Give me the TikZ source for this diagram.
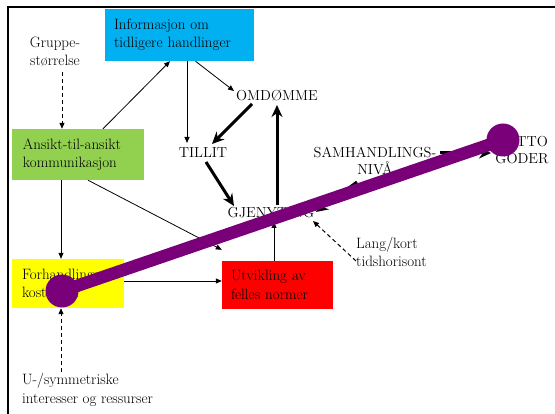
\documentclass[tikz,border=0pt]{standalone}
\usetikzlibrary{arrows.meta}
\definecolor{infoblue}{RGB}{0,176,240}
\definecolor{boxgreen}{RGB}{146,208,80}
\definecolor{boxyellow}{RGB}{255,255,0}
\definecolor{boxred}{RGB}{255,0,0}
\definecolor{bigpurple}{RGB}{122,0,122}
\begin{document}
\begin{tikzpicture}[x=1pt,y=-1pt,
  txt/.style={font=\fontsize{15}{18.5}\selectfont, inner sep=0pt},
  capt/.style={font=\fontsize{14.5}{17.5}\selectfont, inner sep=0pt, align=center},
  colbox/.style={font=\fontsize{15}{18.5}\selectfont, inner ysep=0pt, align=left, anchor=center},
  thinarrow/.style={line width=0.8pt, -{Triangle[length=6pt,width=5pt]}},
  thickarrow/.style={line width=3pt, -{Stealth[length=12pt,width=11pt]}},
  dasharrow/.style={line width=1pt, dash pattern=on 4pt off 3pt, -{Triangle[length=6pt,width=5pt]}}
]
\useasboundingbox (0,0) rectangle (555,414);
\fill[white] (0,0) rectangle (555,414);
\draw[line width=2.2pt] (8,414) -- (8,7) -- (555,7);

% coloured boxes
\node[colbox, fill=infoblue, minimum width=147pt, minimum height=52pt, text width=131pt, inner xsep=9pt] (info) at (179.5,35) {Informasjon om\\tidligere handlinger};
\node[colbox, fill=boxgreen, minimum width=130pt, minimum height=51pt, text width=110pt, inner xsep=11pt] (green) at (78,154.5) {Ansikt-til-ansikt\\kommunikasjon};
\node[colbox, fill=boxyellow, minimum width=110pt, minimum height=49pt, text width=92pt, inner xsep=10pt] (yellow) at (68,283.5) {Forhandlings-\\kostnader};
\node[colbox, fill=boxred, minimum width=111pt, minimum height=48pt, text width=93pt, inner xsep=9pt] (red) at (277.5,285) {Utvikling av\\felles normer};

% plain labels
\node[txt, align=center] (gruppe) at (55,52) {Gruppe-\\størrelse};
\node[capt] (omd) at (277,96) {OMDØMME};
\node[capt] (tillit) at (203,153) {TILLIT};
\node[capt] (gjen) at (271,213) {GJENYTING};
\node[capt] (samh) at (375,161) {SAMHANDLINGS-\\NIVÅ};
\node[capt] (netto) at (522,150) {NETTO\\GODER};
\node[txt, align=left, anchor=west] (lang) at (356,252) {Lang/kort\\tidshorisont};
\node[txt, align=left, anchor=west] (usym) at (22,390) {U-/symmetriske\\interesser og ressurser};

% thin arrows
\draw[thinarrow] ([xshift=25pt]green.north) -- ([xshift=-9.5pt]info.south);
\draw[thinarrow] ([xshift=7.5pt]info.south) -- ([shift={(-16,-10)}]tillit.center);
\draw[thinarrow] ([xshift=16pt]info.south) -- ([shift={(-43,-5)}]omd.center);
\draw[thinarrow] ([xshift=-17pt]green.south) -- ([xshift=-17pt]green.south |- yellow.north);
\draw[thinarrow] ([xshift=10pt]green.south) -- ([yshift=11pt]red.north west);
\draw[thinarrow] ([yshift=2.5pt]yellow.east) -- ([yshift=2.5pt]yellow.east -| red.west);
\draw[thinarrow] ([xshift=-3.5pt]red.north) -- ([shift={(3,9)}]gjen.center);

% thick arrows
\draw[thickarrow] ([shift={(6,-8)}]gjen.center) -- ([shift={(0,9)}]omd.center);
\draw[thickarrow] ([shift={(-25,8)}]omd.center) -- ([shift={(9,-9)}]tillit.center);
\draw[thickarrow] ([shift={(3,9)}]tillit.center) -- ([shift={(-37,-7)}]gjen.center);
\draw[thickarrow] ([shift={(-18,21)}]samh.center) -- ([shift={(45,-1)}]gjen.center);
\draw[thickarrow] ([shift={(65,-8)}]samh.center) -- ([shift={(-31,3)}]netto.center);

% dashed arrows
\draw[dasharrow] ([shift={(7,20)}]gruppe.center) -- ([xshift=-16pt]green.north);
\draw[dasharrow] ([shift={(39,-18)}]usym.west) -- ([xshift=-7pt]yellow.south);
\draw[dasharrow] ([yshift=-9pt]lang.west) -- ([shift={(42,8)}]gjen.center);

% purple overlay
\coordinate (pa) at (62,291);
\coordinate (pb) at (503,140);
\draw[bigpurple, line width=12.5pt] (pa) -- (pb);
\fill[bigpurple] (pa) circle (16.5pt);
\fill[bigpurple] (pb) circle (16.5pt);
\end{tikzpicture}
\end{document}
